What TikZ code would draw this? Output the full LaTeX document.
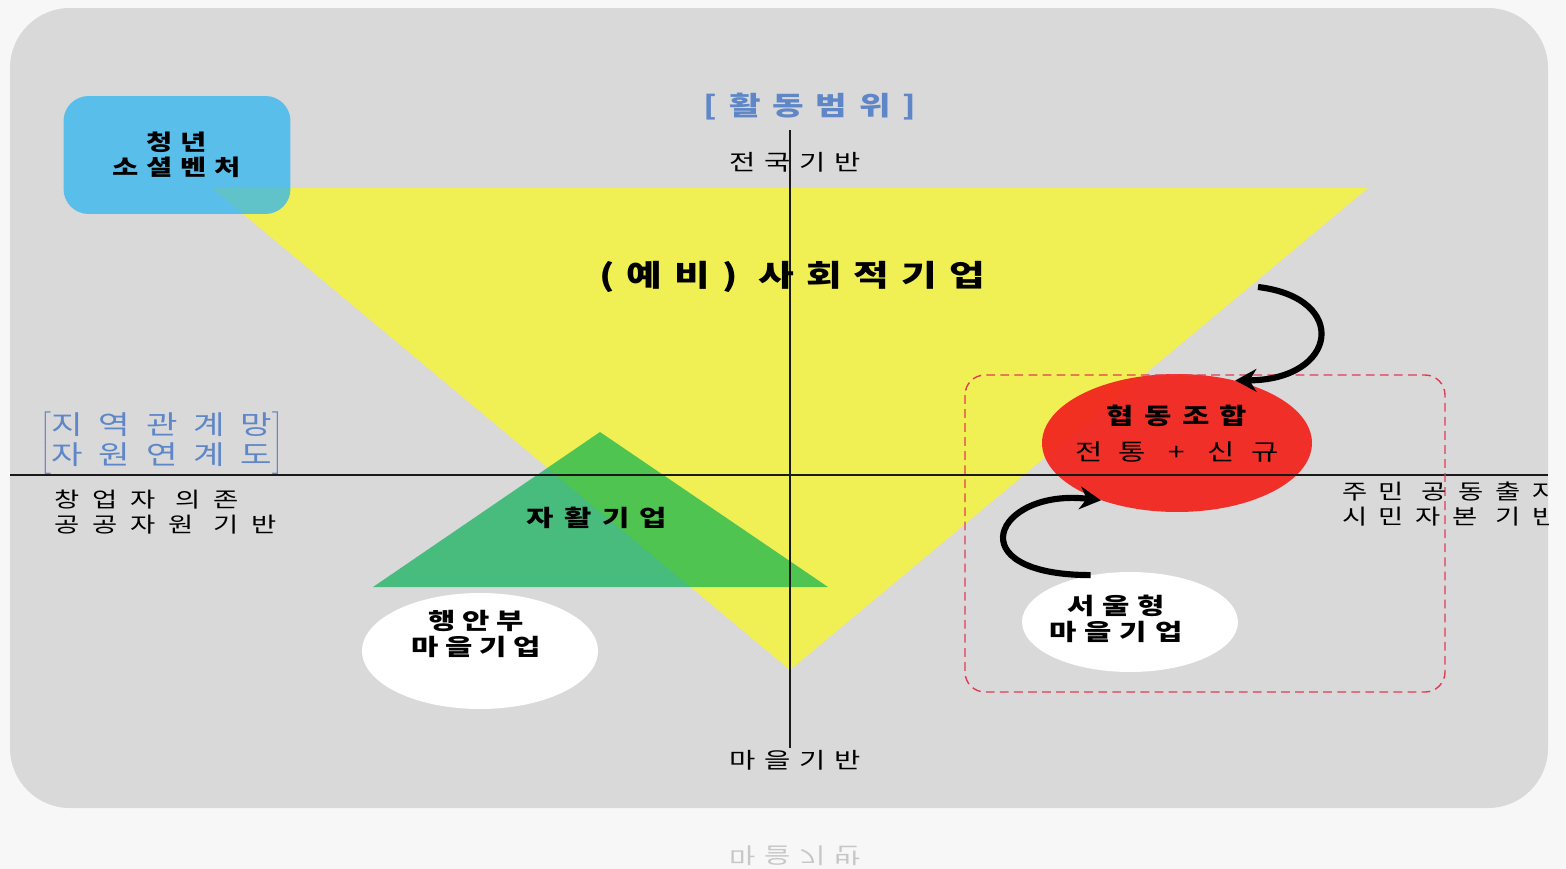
\documentclass[tikz,border=0pt]{standalone}
\usepackage{fontspec}
\setmainfont{Noto Sans CJK KR}[FakeStretch=1.3]
\usepackage{graphicx}
\definecolor{PanelGray}{RGB}{217,217,217}
\definecolor{TriYellow}{RGB}{250,250,30}
\definecolor{TriGreen}{RGB}{0,175,80}
\definecolor{SkyBlue}{RGB}{48,181,241}
\definecolor{CoopRed}{RGB}{242,38,32}
\definecolor{LabelBlue}{RGB}{95,135,200}
\definecolor{DashRed}{RGB}{225,60,85}
\usetikzlibrary{shapes.geometric,arrows.meta,positioning}
\newcommand{\krfont}[3]{\fontsize{#1}{#2}\selectfont\addfontfeature{LetterSpace=#3}}

\begin{document}
\begin{tikzpicture}[x=0.02cm,y=-0.02cm,
    panel/.style={fill=PanelGray,rounded corners=1.2cm},
    axis/.style={draw=black!90,line width=0.7pt},
    venture/.style={fill=SkyBlue,fill opacity=0.75,text opacity=1,rounded corners=0.5cm,
                    minimum width=4.54cm,minimum height=2.36cm,align=center,
                    font=\bfseries\krfont{12.5pt}{14pt}{35}},
    coop/.style={ellipse,fill=CoopRed,fill opacity=0.95,inner sep=0pt,
                 minimum width=5.4cm,minimum height=2.76cm},
    town/.style={ellipse,fill=white,inner sep=0pt},
    lbl/.style={font=\krfont{12.5pt}{14pt}{40},inner sep=1pt},
    bluelbl/.style={text=LabelBlue,font=\bfseries\krfont{15pt}{17pt}{45},inner sep=1pt},
    boldlbl/.style={font=\bfseries\krfont{13pt}{15pt}{45},align=center,inner sep=1pt},
    dashbox/.style={draw=DashRed,rounded corners=0.4cm,line width=0.8pt,dash pattern=on 5pt off 3pt},
    swirl/.style={-{Stealth[length=12pt,width=13pt]},line width=3.5pt,black}]
    \useasboundingbox (0,0) rectangle (1566,869);
    \fill[black!3] (0,0) rectangle (1566,869);
    \fill[panel] (10,8) rectangle (1548,808);

    % triangles
    \fill[TriYellow,fill opacity=0.7] (212,188) -- (1368,188) -- (790,670) -- cycle;
    \fill[TriGreen,fill opacity=0.67] (373,587) -- (828,587) -- (600,432) -- cycle;
    \node[venture] (venture) at (177,155) {청년\\소셜벤처};

    % axes
    \coordinate (top) at (790,130);
    \coordinate (bottom) at (790,748);
    \coordinate (left) at (10,475);
    \coordinate (right) at (1548,475);

    \node[coop] (coop) at (1177,443) {};
    \draw[axis] (top) -- (bottom);
    \draw[axis] (left) -- (right);
    \node[boldlbl] (cooptitle) at (1177,416) {협동조합};
    \node[lbl,font=\krfont{13pt}{15pt}{70}] (coopsub) at (1177,452) {전통 + 신규};
    \draw[dashbox] (965,375) rectangle (1445,692);

    \node[town,minimum width=4.72cm,minimum height=2.32cm] (mois) at (480,651) {};
    \node[boldlbl,font=\bfseries\krfont{13pt}{15pt}{30}] (moistext) at (476,634) {행안부\\마을기업};
    \node[town,minimum width=4.32cm,minimum height=2cm] (seoul) at (1130,622) {};
    \node[boldlbl,font=\bfseries\krfont{13pt}{15pt}{35}] (seoultext) at (1116,619) {서울형\\마을기업};

    % labels
    \node[bluelbl] (scope) at (810,107) {[활동범위]};
    \node[lbl] (national) at (795,162) {전국기반};
    \node[lbl] (village) at (795,760) {마을기반};
    \node[bluelbl,font=\krfont{15pt}{16pt}{60}] (network) at (162,443)
        {$\left[\vcenter{\hbox{\begin{tabular}{@{}c@{}}지역관계망\\자원연계도\end{tabular}}}\right]$};
    \node[lbl,anchor=west,align=left,font=\krfont{12pt}{14pt}{62}] (founder) at (52,512) {창업자 의존\\공공자원 기반};
    \begin{scope}
      \clip (10,8) rectangle (1548,808);
      \node[lbl,anchor=west,align=left,font=\krfont{12pt}{14pt}{55}] (citizen) at (1340,504) {주민 공동출자\\시민자본 기반};
    \end{scope}
    \node[boldlbl,font=\bfseries\krfont{17pt}{20pt}{40}] (social) at (792,277) {(예비) 사회적기업};
    \node[boldlbl] (selfsup) at (597,518) {자활기업};

    % swirl arrows
    \coordinate (swirlA) at (1258,287);
    \draw[swirl] (swirlA) .. controls (1350,298) and (1338,380) .. (coop.47);
    \draw[swirl] (seoul.130) .. controls (955,575) and (995,488) .. (coop.217);

    % reflection
    \node[text=black!22,font=\krfont{12.5pt}{14pt}{40}] (mirror) at (795,856) {\scalebox{1}[-1]{마을기반}};
\end{tikzpicture}
\end{document}
